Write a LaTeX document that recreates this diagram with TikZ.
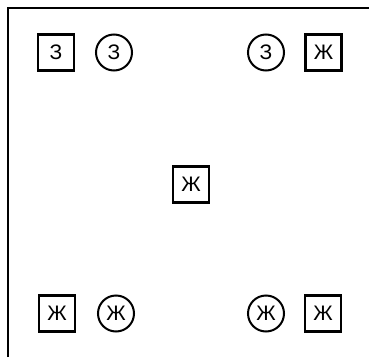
\documentclass[tikz,border=0pt]{standalone}
\usepackage{fontspec}
\setmainfont{Liberation Sans}
\usepackage{tikz}
\usetikzlibrary{positioning}

\tikzset{
    sqbox/.style={draw, line width=2.1pt, minimum size=36pt, inner sep=0pt, font=\fontsize{21}{21}\selectfont},
    rdbox/.style={draw, circle, line width=2pt, minimum size=36pt, inner sep=0pt, font=\fontsize{21}{21}\selectfont}
}

\begin{document}
\begin{tikzpicture}[x=1pt, y=1pt]
    \useasboundingbox (0,0) rectangle (369,357);
    % Khung
    \draw[line width=2.6pt] (8,0) -- (8,349) -- (369,349);

    % Hàng trên
    \node[sqbox] (sqA) at (56,304.5) {З};
    \node[rdbox] (rdA) at (114,304.5) {З};
    \node[rdbox] (rdB) at (266,304.5) {З};
    \node[sqbox] (sqB) at (323.5,304.5) {Ж};

    % Ở giữa
    \node[sqbox] (sqM) at (191,172.5) {Ж};

    % Hàng dưới
    \node[sqbox] (sqC) at (57,43.5) {Ж};
    \node[rdbox] (rdC) at (116,43.5) {Ж};
    \node[rdbox] (rdD) at (266,43.5) {Ж};
    \node[sqbox] (sqD) at (323,43.5) {Ж};
\end{tikzpicture}
\end{document}
